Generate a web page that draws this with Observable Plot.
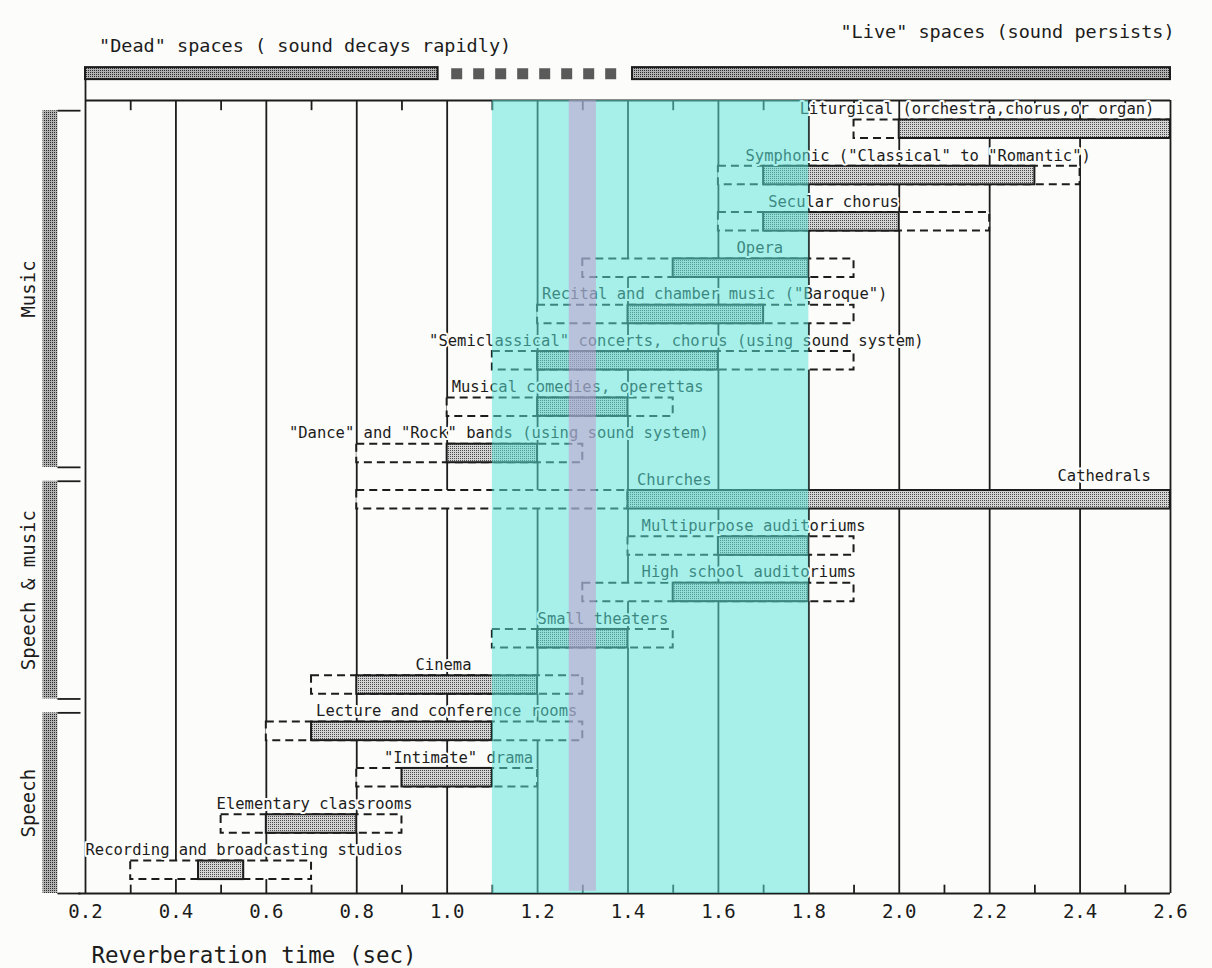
<!DOCTYPE html>
<html>
<head>
<meta charset="utf-8">
<script src="https://cdn.jsdelivr.net/npm/d3@7"></script>
<script src="https://cdn.jsdelivr.net/npm/@observablehq/plot@0.6"></script>
<style>
  html, body { margin: 0; padding: 0; background: #fcfcfa; }
  #chart svg { display: block; }
</style>
</head>
<body>
<div id="chart"></div>
<script>
// ---------- DATA ----------
const rooms = [
  "Liturgical", "Symphonic", "Secular chorus", "Opera", "Recital", "Semiclassical",
  "Musical comedies", "Dance and Rock", "Churches", "Multipurpose auditoriums",
  "High school auditoriums", "Small theaters", "Cinema", "Lecture and conference rooms",
  "Intimate drama", "Elementary classrooms", "Recording and broadcasting studios"
];
// acceptable range (dashed box), seconds
const rangeLow  = [1.9, 1.6, 1.6, 1.3, 1.2, 1.1, 1.0, 0.8, 0.8, 1.4, 1.3, 1.1, 0.7, 0.6, 0.8, 0.5, 0.3];
const rangeHigh = [2.6, 2.4, 2.2, 1.9, 1.9, 1.9, 1.5, 1.3, 1.4, 1.9, 1.9, 1.5, 1.3, 1.3, 1.2, 0.9, 0.7];
// preferred range (solid bar), seconds
const prefLow   = [2.0, 1.7, 1.7, 1.5, 1.4, 1.2, 1.2, 1.0, 1.4, 1.6, 1.5, 1.2, 0.8, 0.7, 0.9, 0.6, 0.45];
const prefHigh  = [2.6, 2.3, 2.0, 1.8, 1.7, 1.6, 1.4, 1.2, 2.6, 1.8, 1.8, 1.4, 1.2, 1.1, 1.1, 0.8, 0.55];
// labels drawn above each row and where they start (seconds)
const rowLabels = [
  "Liturgical (orchestra,chorus,or organ)",
  "Symphonic (\"Classical\" to \"Romantic\")",
  "Secular chorus",
  "Opera",
  "Recital and chamber music (\"Baroque\")",
  "\"Semiclassical\" concerts, chorus (using sound system)",
  "Musical comedies, operettas",
  "\"Dance\" and \"Rock\" bands (using sound system)",
  "Churches",
  "Multipurpose auditoriums",
  "High school auditoriums",
  "Small theaters",
  "Cinema",
  "Lecture and conference rooms",
  "\"Intimate\" drama",
  "Elementary classrooms",
  "Recording and broadcasting studios"
];
const rowLabelX = [1.78, 1.66, 1.71, 1.64, 1.21, 0.96, 1.01, 0.65, 1.42, 1.43, 1.43, 1.2, 0.93, 0.71, 0.86, 0.49, 0.2];
const noteLabels = ["Cathedrals"];
const noteRows = [8];
const noteX = [2.35];

const groups = ["Music", "Speech & music", "Speech"];
const groupFirstRow = [0, 8, 13];
const groupLastRow  = [7, 12, 16];

const xTicks = [0.2, 0.4, 0.6, 0.8, 1.0, 1.2, 1.4, 1.6, 1.8, 2.0, 2.2, 2.4, 2.6];
const minorTicks = [0.3, 0.5, 0.7, 0.9, 1.1, 1.3, 1.5, 1.7, 1.9, 2.1, 2.3, 2.5];
const axisTitle = "Reverberation time (sec)";

const optimalBand = [1.1, 1.8];     // cyan overlay
const speechBand  = [1.27, 1.33];   // lavender overlay

const deadRange = [0.2, 0.98];
const transitionRange = [1.01, 1.385];
const liveRange = [1.41, 2.6];
const headerLabels = ["\"Dead\" spaces ( sound decays rapidly)", "\"Live\" spaces (sound persists)"];
const headerLabelX = [0.23, 1.87];

// ---------- LAYOUT CONSTANTS (row units / styling) ----------
const Y_TOP = -0.62, Y_BOTTOM = 16.5;
const HEADER_BAR_Y = -1.2;
const HEADER_TEXT_Y = [-1.79, -2.1];
const HALF = 0.2;
const INK = "#1c1c1c";
const PAPER = "#fcfcfa";
const FONT = "'DejaVu Sans Mono', monospace";

const rows = rooms.map((r, i) => ({
  room: r, i, lo: rangeLow[i], hi: rangeHigh[i], plo: prefLow[i], phi: prefHigh[i],
  label: rowLabels[i], lx: rowLabelX[i]
}));
const notes = noteLabels.map((t, k) => ({text: t, i: noteRows[k], x: noteX[k]}));
const groupRows = groups.map((g, k) => ({
  name: g,
  top: groupFirstRow[k] - 0.4,
  bottom: k === groups.length - 1 ? Y_BOTTOM : groupLastRow[k] + 0.3
}));

function patterns() {
  const g = d3.create("svg:defs");
  const p1 = g.append("pattern").attr("id", "stip").attr("width", 2).attr("height", 2)
    .attr("patternUnits", "userSpaceOnUse");
  p1.append("rect").attr("width", 2).attr("height", 2).attr("fill", "#d4d4d4");
  p1.append("rect").attr("width", 1).attr("height", 1).attr("fill", "#4a4a4a");
  const p2 = g.append("pattern").attr("id", "stipDark").attr("width", 2).attr("height", 2)
    .attr("patternUnits", "userSpaceOnUse");
  p2.append("rect").attr("width", 2).attr("height", 2).attr("fill", "#b2b2b2");
  p2.append("rect").attr("width", 1).attr("height", 1).attr("fill", "#2a2a2a");
  return g.node();
}

const chart = Plot.plot({
  width: 1212,
  height: 968,
  marginLeft: 85,
  marginRight: 42,
  marginTop: 100,
  marginBottom: 75,
  x: {domain: [0.2, 2.6]},
  y: {domain: [Y_TOP, Y_BOTTOM], reverse: true, axis: null},
  style: {fontFamily: FONT, background: PAPER, color: INK},
  marks: [
    () => patterns(),
    // grid lines and frame
    Plot.ruleX(xTicks, {x: d => d, y1: Y_TOP, y2: Y_BOTTOM, stroke: INK, strokeWidth: 1.8}),
    Plot.ruleX(minorTicks, {x: d => d, y1: Y_TOP, y2: Y_TOP + 0.22, stroke: INK, strokeWidth: 1.8}),
    Plot.ruleX(minorTicks, {x: d => d, y1: Y_BOTTOM - 0.18, y2: Y_BOTTOM, stroke: INK, strokeWidth: 1.8}),
    Plot.ruleY([Y_TOP], {y: d => d, x1: 0.2, x2: 2.6, stroke: INK, strokeWidth: 2}),
    Plot.ruleY([Y_BOTTOM], {y: d => d, x1: 0.185, x2: 2.6, stroke: INK, strokeWidth: 2}),
    // header: dead / live spaces
    Plot.ruleX([deadRange[0]], {x: d => d, y1: HEADER_BAR_Y, y2: Y_TOP, stroke: INK, strokeWidth: 1.8}),
    Plot.rect([deadRange, liveRange], {
      x1: d => d[0], x2: d => d[1], y1: HEADER_BAR_Y - 0.13, y2: HEADER_BAR_Y + 0.13,
      fill: "url(#stipDark)", stroke: INK, strokeWidth: 2
    }),
    Plot.ruleY([transitionRange], {
      x1: d => d[0], x2: d => d[1], y: HEADER_BAR_Y, stroke: "#5a5a5a", strokeWidth: 11,
      strokeDasharray: "11,11"
    }),
    Plot.text(headerLabels, {
      x: (d, k) => headerLabelX[k], y: (d, k) => HEADER_TEXT_Y[k], text: d => d,
      textAnchor: "start", fontSize: 18.5, fill: INK
    }),
    // group brackets on the left
    Plot.rect(groupRows, {x1: 0.106, x2: 0.139, y1: "top", y2: "bottom", fill: "url(#stipDark)"}),
    Plot.ruleY(groupRows, {y: "top", x1: 0.139, x2: 0.19, stroke: INK, strokeWidth: 1.8}),
    Plot.ruleY(groupRows, {y: "bottom", x1: 0.139, x2: 0.19, stroke: INK, strokeWidth: 1.8}),
    Plot.text(groupRows, {
      x: 0.074, y: d => (d.top + d.bottom) / 2, text: "name", rotate: -90,
      fontSize: 19, fill: INK
    }),
    // acceptable ranges (dashed) and preferred ranges (solid)
    Plot.rect(rows, {
      x1: "lo", x2: "hi", y1: d => d.i - HALF, y2: d => d.i + HALF,
      fill: PAPER, stroke: INK, strokeWidth: 2, strokeDasharray: "8,5"
    }),
    Plot.rect(rows, {
      x1: "plo", x2: "phi", y1: d => d.i - HALF, y2: d => d.i + HALF,
      fill: "url(#stip)", stroke: INK, strokeWidth: 2
    }),
    // labels
    Plot.text(rows, {
      x: "lx", y: "i", dy: -20, text: "label", textAnchor: "start",
      fontSize: 15.5, fill: INK, stroke: PAPER, strokeWidth: 4
    }),
    Plot.text(notes, {
      x: "x", y: "i", dy: -24, text: "text", textAnchor: "start",
      fontSize: 15.5, fill: INK, stroke: PAPER, strokeWidth: 4
    }),
    // axis
    Plot.axisX({
      ticks: xTicks, tickSize: 0, tickPadding: 11, tickFormat: d3.format(".1f"),
      fontSize: 19, label: null
    }),
    Plot.text([axisTitle], {
      frameAnchor: "bottom-left", text: d => d, dx: 6, dy: 69, textAnchor: "start",
      fontSize: 22.5, fill: INK
    }),
    // overlays
    Plot.rect([optimalBand], {
      x1: d => d[0], x2: d => d[1], y1: Y_TOP, y2: Y_BOTTOM,
      fill: "#58e4d9", fillOpacity: 0.53
    }),
    Plot.rect([speechBand], {
      x1: d => d[0], x2: d => d[1], y1: Y_TOP, y2: Y_BOTTOM - 0.05,
      fill: "#cb94ce", fillOpacity: 0.5
    })
  ]
});
document.getElementById("chart").appendChild(chart);
</script>
</body>
</html>
